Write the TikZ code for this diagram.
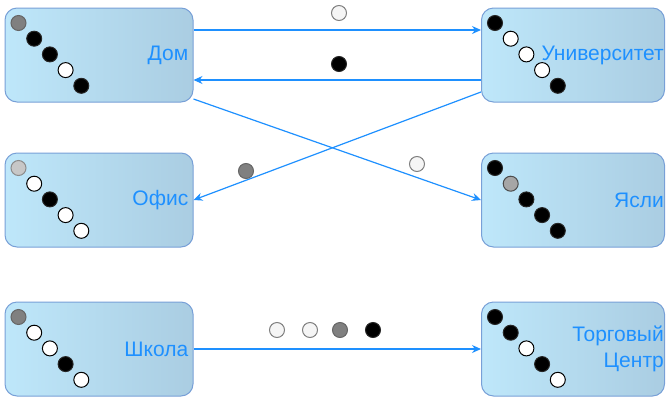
\documentclass[tikz,border=0pt]{standalone}
\usepackage{fontspec}
\setmainfont{Liberation Sans}
\usetikzlibrary{arrows.meta,calc}
\definecolor{txtblue}{RGB}{30,144,255}
\definecolor{lnblue}{RGB}{30,144,255}
\definecolor{boxL}{RGB}{190,231,250}
\definecolor{boxR}{RGB}{170,205,226}
\definecolor{boxD}{RGB}{120,160,215}
\newcommand\tokrow[2]{%
  \foreach \s [count=\i] in {#2} {%
    \node[\s] (#1-\i) at ($(#1.north west)+({14+15.7*(\i-1)},{15.5+15.7*(\i-1)})$) {};%
  }%
}
\begin{document}
\begin{tikzpicture}[x=1pt,y=-1pt,
  box/.style={rectangle, rounded corners=12pt, draw=boxD, line width=1pt,
    left color=boxL, right color=boxR, minimum height=94pt, inner sep=0pt},
  lbox/.style={box, minimum width=188pt},
  rbox/.style={box, minimum width=183pt},
  lbl/.style={text=txtblue, font=\fontsize{21}{26}\selectfont, anchor=east,
    align=right, inner sep=0pt},
  tok/.style={circle, minimum size=15pt, inner sep=0pt, line width=1pt},
  tb/.style={tok, fill=black, draw=black!85},
  tw/.style={tok, fill=white, draw=black},
  tg/.style={tok, fill=black!50, draw=black!60},
  tl/.style={tok, fill=black!22, draw=black!45},
  tm/.style={tok, fill=black!35, draw=black!70},
  twe/.style={tok, fill=black!4, draw=black!50},
  conn/.style={draw=lnblue, line width=1.2pt, -{Stealth[length=9pt,width=8pt]}}
]
\useasboundingbox (0,0) rectangle (670,397);

\node[lbox] (dom)  at (99,55)  {};
\node[rbox] (uni)  at (573,55) {};
\node[lbox] (ofis) at (99,200) {};
\node[rbox] (ysl)  at (573,200) {};
\node[lbox] (shk)  at (99,349) {};
\node[rbox] (tc)   at (573,349) {};

\node[lbl] (domL) at ($(dom.east)+(-5,0)$) {Дом};
\node[lbl] (uniL) at ($(uni.east)+(-1,0)$) {Университет};
\node[lbl] (ofisL) at ($(ofis.east)+(-5,0)$) {Офис};
\node[lbl] (yslL) at ($(ysl.east)+(-1,0)$) {Ясли};
\node[lbl] (shkL) at ($(shk.east)+(-5,0)$) {Школа};
\node[lbl] (tcL) at ($(tc.east)+(-1,0)$) {Торговый\\Центр};

\tokrow{dom}{tg,tb,tb,tw,tb}
\tokrow{uni}{tb,tw,tw,tw,tb}
\tokrow{ofis}{tl,tw,tb,tw,tw}
\tokrow{ysl}{tb,tm,tb,tb,tb}
\tokrow{shk}{tg,tw,tw,tb,tw}
\tokrow{tc}{tb,tb,tw,tb,tw}

\draw[conn] ([yshift=25pt]dom.east) -- ([yshift=25pt]uni.west);
\draw[conn] ([yshift=-25pt]uni.west) -- ([yshift=-25pt]dom.east);
\draw[conn] ([yshift=-44pt]dom.east) -- (ysl.west);
\draw[conn] ([yshift=-37pt]uni.west) -- (ofis.east);
\draw[conn] (shk.east) -- (tc.west);

\node[twe] (e1) at (339,13) {};
\node[tb]  (e2) at (339,64) {};
\node[tg]  (e3) at (246,171) {};
\node[twe] (e4) at (417,164) {};
\node[twe] (e5) at (277,330) {};
\node[twe] (e6) at (310,330) {};
\node[tg]  (e7) at (340,330) {};
\node[tb]  (e8) at (373,330) {};
\end{tikzpicture}
\end{document}
